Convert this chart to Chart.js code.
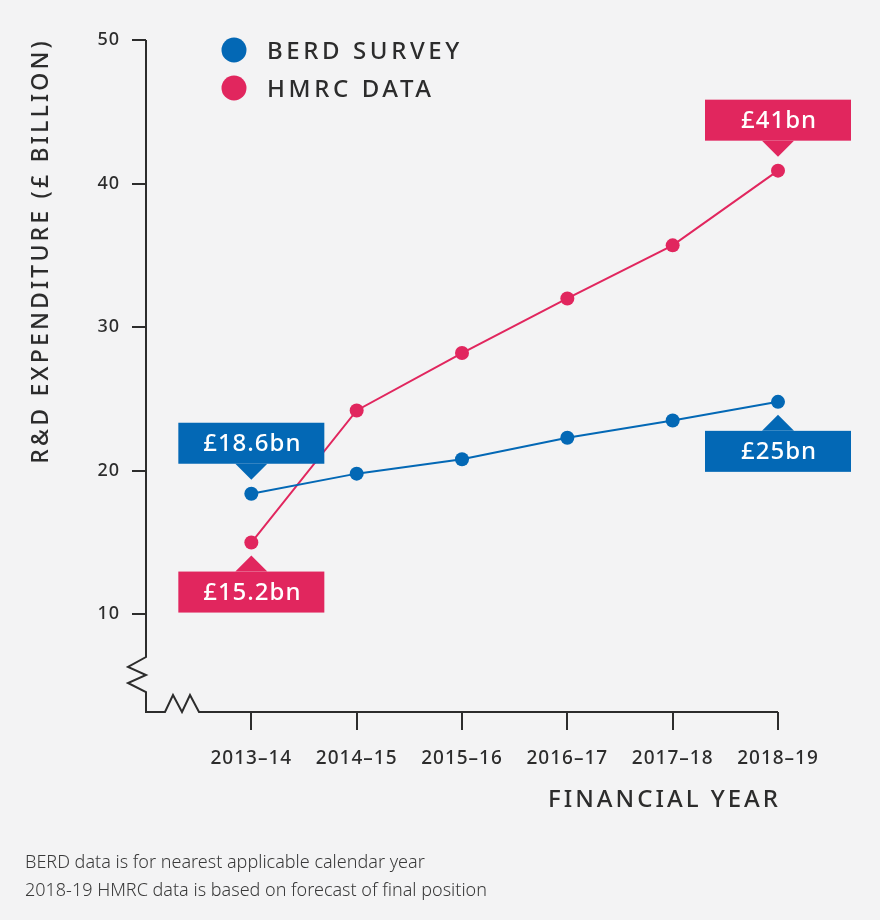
<!DOCTYPE html>
<html><head><meta charset="utf-8">
<script src="https://cdn.jsdelivr.net/npm/chart.js@4"></script>
<style>html,body{margin:0;padding:0;background:#f3f3f4;}#wrap{width:880px;height:920px;}</style>
</head><body><div id="wrap"><canvas id="c" width="880" height="920"></canvas></div>
<script>
const categories = ['2013–14','2014–15','2015–16','2016–17','2017–18','2018–19'];
const berdValues = [18.4, 19.8, 20.8, 22.3, 23.5, 24.8];
const hmrcValues = [15.0, 24.2, 28.2, 32.0, 35.7, 40.9];
const yTickValues = [10, 20, 30, 40, 50];
const seriesNames = ['BERD SURVEY', 'HMRC DATA'];
const calloutLabels = ['£18.6bn', '£15.2bn', '£41bn', '£25bn'];
const calloutSeries = [0, 1, 1, 0];
const calloutIndex = [0, 0, 5, 5];
const calloutSide = ['above', 'below', 'above', 'below'];
const yTitle = 'R&D EXPENDITURE (£ BILLION)';
const xTitle = 'FINANCIAL YEAR';
const footnotes = ['BERD data is for nearest applicable calendar year', '2018-19 HMRC data is based on forecast of final position'];

const BLUE = '#0368b5', PINK = '#e1265e', INK = '#2c2c2c';
const FONT = '"Noto Sans", sans-serif';

const annot = {
  id: 'annot',
  beforeDraw(chart) { chart.ctx.letterSpacing = '1px'; },
  beforeDatasetsDraw(chart) {
    const ctx = chart.ctx, a = chart.chartArea;
    const L = a.left, B = a.bottom;
    ctx.save();
    ctx.strokeStyle = INK; ctx.lineWidth = 2; ctx.lineJoin = 'miter';
    ctx.beginPath();
    ctx.moveTo(L, a.top); ctx.lineTo(L, 657);
    ctx.lineTo(L - 18, 667); ctx.lineTo(L, 675); ctx.lineTo(L - 18, 683); ctx.lineTo(L, 692);
    ctx.lineTo(L, B); ctx.lineTo(L + 19, B);
    ctx.lineTo(L + 27, B - 17); ctx.lineTo(L + 36, B); ctx.lineTo(L + 44, B - 17); ctx.lineTo(L + 53, B);
    ctx.lineTo(a.right, B);
    ctx.stroke();
    ctx.restore();
  },
  afterDraw(chart) {
    const ctx = chart.ctx, a = chart.chartArea;
    ctx.save();
    // y title
    ctx.fillStyle = INK;
    ctx.font = '500 23px ' + FONT;
    ctx.letterSpacing = '3.2px';
    ctx.save();
    ctx.translate(48, 38);
    ctx.rotate(-Math.PI / 2);
    ctx.textAlign = 'right'; ctx.textBaseline = 'alphabetic';
    ctx.fillText(yTitle, 0, 0);
    ctx.restore();
    // x title
    ctx.textAlign = 'right'; ctx.textBaseline = 'alphabetic';
    ctx.font = '500 24px ' + FONT;
    ctx.letterSpacing = '3px';
    ctx.fillText(xTitle, a.right + 3, 807);
    // legend
    const colors = [BLUE, PINK];
    seriesNames.forEach((n, i) => {
      const cy = 50 + i * 38;
      ctx.fillStyle = colors[i];
      ctx.beginPath(); ctx.arc(234, cy, 12.5, 0, Math.PI * 2); ctx.fill();
      ctx.fillStyle = INK; ctx.textAlign = 'left'; ctx.textBaseline = 'alphabetic';
      ctx.letterSpacing = '3.6px';
      ctx.font = '500 24px ' + FONT;
      ctx.fillText(n, 267, cy + 8.5);
    });
    // footnotes
    ctx.letterSpacing = '0px';
    ctx.font = '300 18px ' + FONT;
    ctx.fillStyle = '#3a3a3a';
    footnotes.forEach((t, i) => ctx.fillText(t, 25, 868 + i * 28));
    // callouts
    calloutLabels.forEach((txt, k) => {
      const pt = chart.getDatasetMeta(calloutSeries[k]).data[calloutIndex[k]];
      const col = chart.data.datasets[calloutSeries[k]].borderColor;
      const w = 146, h = 41, hw = 16, th = 16;
      const x = pt.x, y = pt.y;
      ctx.fillStyle = col;
      ctx.beginPath();
      let top;
      if (calloutSide[k] === 'above') {
        const tip = y - 14, bot = tip - th; top = bot - h;
        ctx.moveTo(x, tip); ctx.lineTo(x + hw, bot); ctx.lineTo(x - hw, bot);
      } else {
        const tip = y + 13, t = tip + th; top = t;
        ctx.moveTo(x, tip); ctx.lineTo(x + hw, t); ctx.lineTo(x - hw, t);
      }
      ctx.closePath(); ctx.fill();
      ctx.fillRect(x - w / 2, top, w, h);
      ctx.fillStyle = '#ffffff';
      ctx.font = '500 24px ' + FONT;
      ctx.letterSpacing = '1px';
      ctx.textAlign = 'center'; ctx.textBaseline = 'middle';
      ctx.fillText(txt, x + 1, top + h / 2 + 1);
    });
    ctx.restore();
  }
};

new Chart(document.getElementById('c'), {
  type: 'line',
  data: {
    datasets: [
      { label: seriesNames[0], data: berdValues.map((v, i) => ({ x: i, y: v })), borderColor: BLUE, backgroundColor: BLUE, borderWidth: 2, pointRadius: 7, pointHoverRadius: 7, pointBorderWidth: 0, tension: 0, clip: false },
      { label: seriesNames[1], data: hmrcValues.map((v, i) => ({ x: i, y: v })), borderColor: PINK, backgroundColor: PINK, borderWidth: 2, pointRadius: 7, pointHoverRadius: 7, pointBorderWidth: 0, tension: 0, clip: false }
    ]
  },
  options: {
    responsive: false,
    devicePixelRatio: 1,
    animation: false,
    layout: { padding: { left: 0, top: 40, right: 102, bottom: 0 } },
    plugins: { legend: { display: false }, tooltip: { enabled: false } },
    scales: {
      x: {
        type: 'linear', min: -1, max: 5,
        afterBuildTicks: s => { s.ticks = categories.map((c, i) => ({ value: i })); },
        afterFit: s => { s.height = 208; },
        ticks: { callback: v => categories[v], color: INK, font: { family: FONT, size: 19, weight: '500' }, padding: 17, maxRotation: 0, autoSkip: false },
        grid: { drawOnChartArea: false, drawTicks: true, tickLength: 18, color: INK, lineWidth: 2 },
        border: { display: false }
      },
      y: {
        type: 'linear', min: 3.2, max: 50,
        afterBuildTicks: s => { s.ticks = yTickValues.map(v => ({ value: v })); },
        afterFit: s => { s.width = 146; },
        ticks: { color: INK, font: { family: FONT, size: 18, weight: '500' }, padding: 12 },
        grid: { drawOnChartArea: false, drawTicks: true, tickLength: 14, color: INK, lineWidth: 2 },
        border: { display: false }
      }
    }
  },
  plugins: [annot]
});
</script></body></html>
